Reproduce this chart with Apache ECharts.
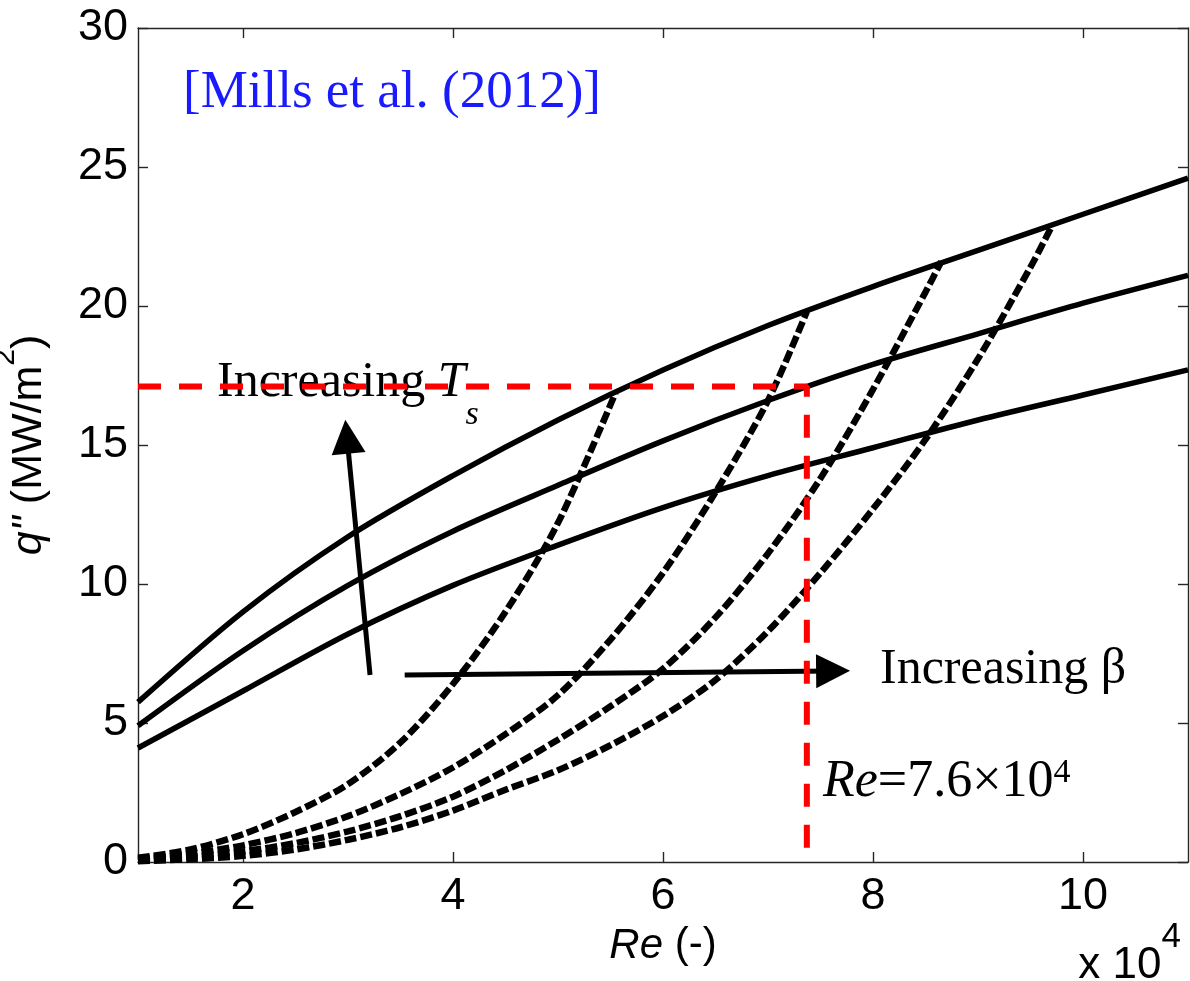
<!DOCTYPE html>
<html>
<head>
<meta charset="utf-8">
<title>q'' vs Re</title>
<script src="https://cdn.jsdelivr.net/npm/echarts@6.0.0/dist/echarts.min.js"></script>
<style>
  html, body { margin: 0; padding: 0; background: #fff; }
  #grafico { width: 1190px; height: 981px; }
</style>
</head>
<body>
<div id="grafico"></div>
<script>
// --- Eje x: Re (x 10^4) ---
const reTicks = [2, 4, 6, 8, 10];
const reSolid = [1, 2, 3, 4, 5, 6, 7, 8, 9, 10, 11];

// --- Curvas continuas: q'' (MW/m2), una por T_s ---
const qSolidTop = [5.75, 9.0, 11.7, 13.9, 15.9, 17.7, 19.3, 20.7, 22.0, 23.3, 24.6];
const qSolidMid = [4.9, 7.6, 9.95, 11.9, 13.55, 15.15, 16.6, 17.9, 19.0, 20.1, 21.1];
const qSolidLow = [4.1, 6.15, 8.2, 9.95, 11.4, 12.75, 13.9, 14.9, 15.9, 16.8, 17.7];

// --- Curvas discontinuas: una por beta ---
const reDash1 = [1, 1.5, 2, 2.5, 3, 3.5, 4, 4.5, 5, 5.55];
const qDash1 = [0.15, 0.45, 1.0, 1.8, 2.8, 4.3, 6.4, 9.0, 12.2, 16.9];
const reDash2 = [1, 1.5, 2, 2.5, 3, 3.5, 4, 4.5, 5, 5.5, 6, 6.5, 7, 7.37];
const qDash2 = [0.1, 0.3, 0.6, 1.04, 1.65, 2.45, 3.4, 4.6, 6.0, 8.0, 10.4, 13.3, 16.6, 19.8];
const reDash3 = [1, 1.5, 2, 2.5, 3, 3.5, 4, 4.5, 5, 5.5, 6, 6.5, 7, 7.5, 8, 8.5, 8.65];
const qDash3 = [0.05, 0.18, 0.38, 0.68, 1.1, 1.65, 2.35, 3.3, 4.4, 5.6, 6.95, 8.8, 11.1, 13.8, 17.0, 20.5, 21.6];
const reDash4 = [1, 1.5, 2, 2.5, 3, 3.5, 4, 4.5, 5, 5.5, 6, 6.5, 7, 7.5, 8, 8.5, 9, 9.5, 9.7];
const qDash4 = [0.03, 0.1, 0.22, 0.45, 0.8, 1.25, 1.85, 2.6, 3.3, 4.2, 5.25, 6.55, 8.3, 10.4, 12.7, 15.2, 18.1, 21.4, 22.85];

// --- Punto de diseño (lineas rojas) ---
const refRe = 7.37;
const refQ = 17.1;

// --- Flechas [inicio, centro de la punta] ---
const arrowTs = [[3.21, 6.73], [2.99, 15.3]];
const arrowBeta = [[3.54, 6.73], [7.62, 6.87]];

const SANS = "Liberation Sans";
const SERIF = "Liberation Serif";

function pares(xs, ys) {
    return xs.map((x, i) => [x, ys[i]]);
}

function curvaSolida(ys) {
    return {
        type: "line",
        data: pares(reSolid, ys),
        showSymbol: false,
        smooth: 0.3,
        lineStyle: { color: "#000", width: 5.5 },
        z: 3
    };
}

function curvaDiscontinua(xs, ys) {
    return {
        type: "line",
        data: pares(xs, ys),
        showSymbol: false,
        smooth: 0.3,
        lineStyle: { color: "#000", width: 6.5, type: [12, 4], cap: "butt" },
        z: 3
    };
}

function flecha(coords) {
    return {
        type: "lines",
        coordinateSystem: "cartesian2d",
        symbol: ["none", "triangle"],
        symbolSize: [32, 34],
        lineStyle: { color: "#000", width: 5, opacity: 1 },
        itemStyle: { color: "#000" },
        data: [{ coords: coords }],
        z: 4
    };
}

const ejeLinea = { show: true, onZero: false, lineStyle: { color: "#262626", width: 1.4 } };
const ejeTick = { show: true, inside: true, length: 10, lineStyle: { color: "#262626", width: 1.4 } };

var myChart = echarts.init(document.getElementById("grafico"));

myChart.setOption({
    animation: false,
    backgroundColor: "#fff",
    grid: { left: 138, right: 2, top: 28, bottom: 119, outerBoundsMode: "none" },
    xAxis: [
        {
            type: "value",
            min: 1,
            max: 11,
            position: "bottom",
            axisLine: ejeLinea,
            axisTick: Object.assign({ customValues: reTicks }, ejeTick),
            axisLabel: { customValues: reTicks, fontSize: 45, lineHeight: 45, fontFamily: SANS, color: "#000", margin: 12 },
            splitLine: { show: false },
            name: "{i|Re} (-)",
            nameLocation: "middle",
            nameGap: 57,
            nameTextStyle: {
                fontSize: 42, lineHeight: 44, fontFamily: SANS, color: "#000",
                rich: { i: { fontSize: 42, lineHeight: 44, fontFamily: SANS, fontStyle: "italic", color: "#000" } }
            }
        },
        {
            type: "value",
            min: 1,
            max: 11,
            position: "top",
            axisLine: ejeLinea,
            axisTick: Object.assign({ customValues: reTicks }, ejeTick),
            axisLabel: { show: false, customValues: reTicks },
            splitLine: { show: false }
        }
    ],
    yAxis: [
        {
            type: "value",
            min: 0,
            max: 30,
            interval: 5,
            position: "left",
            axisLine: ejeLinea,
            axisTick: ejeTick,
            axisLabel: { fontSize: 45, fontFamily: SANS, color: "#000", margin: 10 },
            splitLine: { show: false },
            name: "{i|q\"} (MW/m{sup|2})",
            nameLocation: "middle",
            nameRotate: 90,
            nameGap: 50,
            nameTextStyle: {
                fontSize: 43, lineHeight: 76, fontFamily: SANS, color: "#000",
                rich: {
                    i: { fontSize: 43, lineHeight: 76, fontFamily: SANS, fontStyle: "italic", color: "#000" },
                    sup: { fontSize: 30, lineHeight: 30, fontFamily: SANS, color: "#000", verticalAlign: "top" }
                }
            }
        },
        {
            type: "value",
            min: 0,
            max: 30,
            interval: 5,
            position: "right",
            axisLine: ejeLinea,
            axisTick: ejeTick,
            axisLabel: { show: false },
            splitLine: { show: false }
        }
    ],
    graphic: [
        {
            type: "text", x: 183, y: 93, z: 0,
            style: { text: "[Mills et al. (2012)]", fontSize: 53, fontFamily: SERIF, fill: "#1a1aff", verticalAlign: "middle" }
        },
        {
            type: "text", x: 217, y: 334, z: 0,
            style: {
                text: "Increasing {i|T}{sub|s}",
                fontSize: 50, lineHeight: 98, fontFamily: SERIF, fill: "#000", verticalAlign: "top",
                rich: {
                    i: { fontSize: 50, lineHeight: 98, fontFamily: SERIF, fontStyle: "italic", fill: "#000" },
                    sub: { fontSize: 34, lineHeight: 34, fontFamily: SERIF, fontStyle: "italic", fill: "#000", verticalAlign: "bottom" }
                }
            }
        },
        {
            type: "text", x: 880, y: 670, z: 0,
            style: { text: "Increasing β", fontSize: 50, fontFamily: SERIF, fill: "#000", verticalAlign: "middle" }
        },
        {
            type: "text", x: 823, y: 756, z: 0,
            style: {
                text: "{i|Re}=7.6×10{sup|4}",
                fontSize: 52, lineHeight: 52, fontFamily: SERIF, fill: "#000", verticalAlign: "top",
                rich: {
                    i: { fontSize: 52, lineHeight: 52, fontFamily: SERIF, fontStyle: "italic", fill: "#000" },
                    sup: { fontSize: 34, lineHeight: 34, fontFamily: SERIF, fill: "#000", verticalAlign: "top" }
                }
            }
        },
        {
            type: "text", x: 1181, y: 920, z: 0,
            style: {
                text: "x 10{sup|4}",
                fontSize: 44, lineHeight: 91, fontFamily: SANS, fill: "#000", align: "right", verticalAlign: "top",
                rich: {
                    sup: { fontSize: 35, lineHeight: 35, fontFamily: SANS, fill: "#000", verticalAlign: "top" }
                }
            }
        }
    ],
    series: [
        curvaSolida(qSolidTop),
        curvaSolida(qSolidMid),
        curvaSolida(qSolidLow),
        curvaDiscontinua(reDash1, qDash1),
        curvaDiscontinua(reDash2, qDash2),
        curvaDiscontinua(reDash3, qDash3),
        curvaDiscontinua(reDash4, qDash4),
        flecha(arrowTs),
        flecha(arrowBeta),
        {
            // lineas rojas del punto de diseño
            type: "line",
            data: [[1, refQ], [refRe, refQ], [refRe, 0]],
            showSymbol: false,
            lineStyle: { color: "#ff0000", width: 6, type: [23, 18], cap: "butt" },
            z: 5
        }
    ]
});
</script>
</body>
</html>
